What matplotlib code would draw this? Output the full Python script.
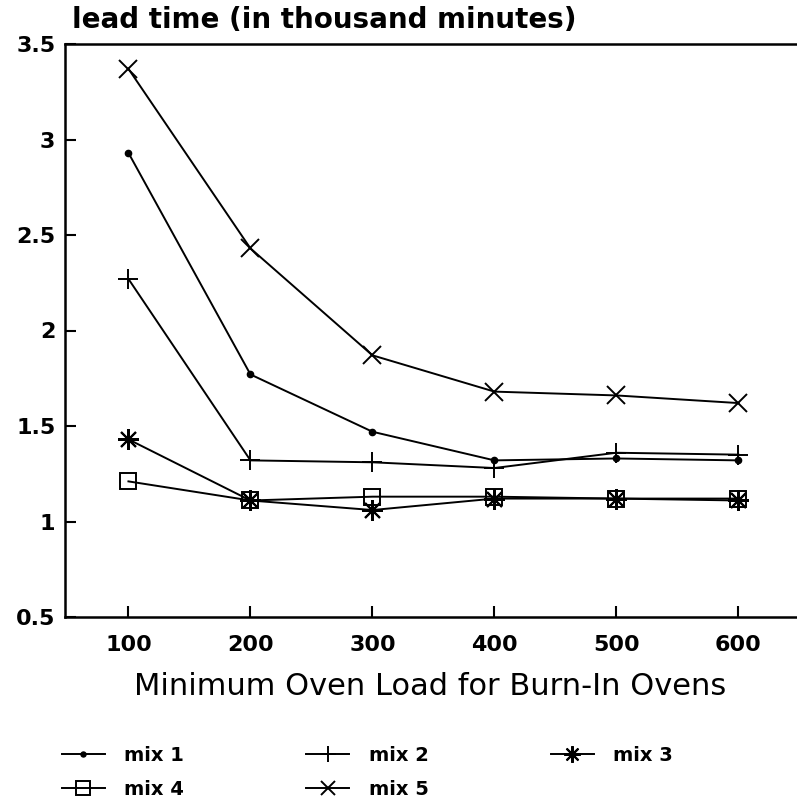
"""Lead time vs minimum oven load (scanned chart recreation)."""

import matplotlib
matplotlib.use("Agg")
import matplotlib.pyplot as plt
from matplotlib.ticker import FuncFormatter

# values
oven_load = [100, 200, 300, 400, 500, 600]
mix1 = [2.93, 1.77, 1.47, 1.32, 1.33, 1.32]
mix2 = [2.27, 1.32, 1.31, 1.28, 1.36, 1.35]
mix3 = [1.43, 1.11, 1.06, 1.12, 1.12, 1.11]
mix4 = [1.21, 1.11, 1.13, 1.13, 1.12, 1.12]
mix5 = [3.37, 2.43, 1.87, 1.68, 1.66, 1.62]
y_ticks = [0.5, 1, 1.5, 2, 2.5, 3, 3.5]

plt.rcParams["font.family"] = ["DejaVu Sans"]

fig = plt.figure(figsize=(7.97, 7.99), dpi=100, facecolor="white")
ax = fig.add_axes([65 / 797, 1 - 617 / 799, 1 - 65 / 797, (617 - 44) / 799])

lw = 1.4
styles = [
    ("mix 1", mix1, dict(marker="o", markersize=4.5)),
    ("mix 2", mix2, dict(marker="+", markersize=15, markeredgewidth=1.4)),
    ("mix 3", mix3, dict(marker=(8, 2, 0), markersize=15, markeredgewidth=1.5)),
    ("mix 4", mix4, dict(marker="s", markersize=12, markerfacecolor="none", markeredgewidth=1.4)),
    ("mix 5", mix5, dict(marker="x", markersize=13, markeredgewidth=1.4)),
]
handles = {}
for name, vals, kw in styles:
    (h,) = ax.plot(oven_load, vals, color="black", linewidth=lw, label=name, **kw)
    handles[name] = h

ax.set_xlim(48, 648)
ax.set_ylim(0.5, 3.5)
ax.set_xticks(oven_load)
ax.set_yticks(y_ticks)
ax.yaxis.set_major_formatter(FuncFormatter(lambda v, _: f"{v:g}"))
ax.tick_params(axis="both", direction="in", length=8, width=1.5, labelsize=16)
ax.tick_params(axis="x", pad=13)
ax.tick_params(axis="y", pad=7)
for lbl in ax.get_xticklabels() + ax.get_yticklabels():
    lbl.set_fontweight("bold")
for side in ["left", "bottom", "top"]:
    ax.spines[side].set_linewidth(1.8)
ax.spines["right"].set_visible(False)

fig.text(72 / 797, 1 - 28 / 799, "lead time (in thousand minutes)",
         fontsize=20, fontweight="bold", va="baseline", ha="left")
fig.text(430 / 797, 1 - 672 / 799, "Minimum Oven Load for Burn-In Ovens",
         fontsize=22, va="top", ha="center")

order = ["mix 1", "mix 4", "mix 2", "mix 5", "mix 3"]
fig.legend([handles[n] for n in order], order, loc="upper left",
           bbox_to_anchor=(52 / 797, 1 - 736 / 799), ncol=3, frameon=False,
           prop=dict(size=14, weight="bold"), handlelength=2.2, handletextpad=1.0,
           columnspacing=6.3, labelspacing=0.8, markerscale=0.8, borderpad=0)

fig.savefig("out.png", dpi=100, facecolor="white")
